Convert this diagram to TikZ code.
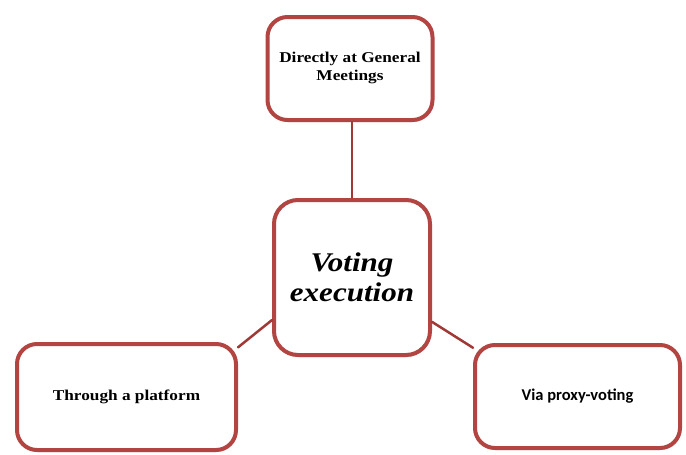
\documentclass[tikz,border=0pt]{standalone}
\usepackage{fontspec}
\setmainfont[FakeStretch=1.15]{Liberation Serif}
\newfontfamily\boxsans{Carlito}
\usetikzlibrary{shadows}
\definecolor{boxred}{RGB}{178,68,66}
\definecolor{linkred}{RGB}{160,56,54}

\begin{document}
\begin{tikzpicture}[x=1pt,y=-1pt,line cap=round,line join=round,
  waybox/.style={draw=boxred,line width=4pt,fill=white,rounded corners=20pt,
    align=center,inner sep=0pt,font=\bfseries\fontsize{15}{18}\selectfont,
    drop shadow={opacity=0.3,shadow xshift=1pt,shadow yshift=-2pt}},
  link/.style={draw=linkred,line width=2.5pt}]
\useasboundingbox (0,0) rectangle (686,455);
% boxes
\node[waybox,minimum width=165pt,minimum height=103pt,text depth=4pt] (general) at (350,68.5)
  {Directly at General\\Meetings};
\node[waybox,minimum width=156pt,minimum height=155pt,rounded corners=24pt,
  font=\bfseries\itshape\fontsize{27}{30}\selectfont] (voting) at (352,277.5)
  {Voting\\execution};
\node[waybox,minimum width=219pt,minimum height=106pt] (platform) at (126.5,397)
  {Through a platform};
\node[waybox,minimum width=205pt,minimum height=103pt,
  font=\boxsans\bfseries\fontsize{16.5}{19}\selectfont] (proxy) at (577.5,396.5)
  {Via proxy-voting};
% links
\draw[link] (general.south -| voting.north) -- (voting.north);
\draw[link] (voting.208) -- (platform.24);
\draw[link] (voting.-29) -- (proxy.155);
\end{tikzpicture}
\end{document}
